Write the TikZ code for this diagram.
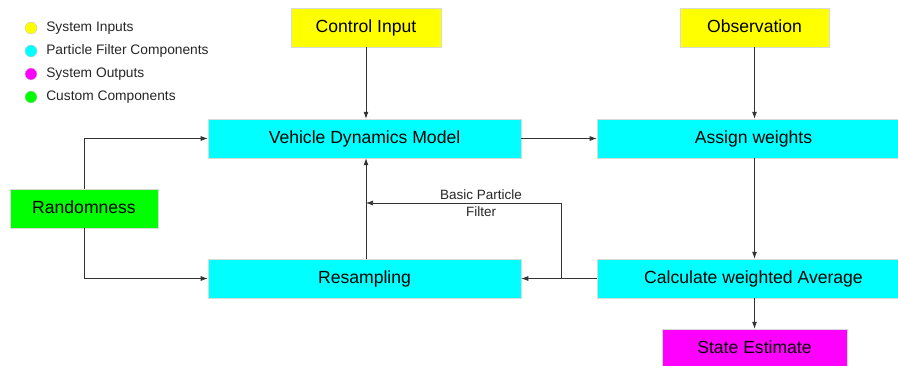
\documentclass[tikz,border=0pt]{standalone}
\usepackage{fontspec}
\setmainfont{Liberation Sans}
\usepackage{tikz}
\usetikzlibrary{arrows.meta,calc,positioning}
\definecolor{inyellow}{RGB}{255,255,0}
\definecolor{pfcyan}{RGB}{0,255,255}
\definecolor{outmagenta}{RGB}{255,0,255}
\definecolor{customgreen}{RGB}{0,255,0}

\begin{document}
\begin{tikzpicture}[
    x=0.025cm, y=-0.025cm,
    >={Latex[length=5pt,width=3.5pt]},
    font=\fontsize{12.5}{14}\selectfont,
    block/.style={
        draw=black!15,
        line width=0.3pt,
        minimum width=7.825cm,
        minimum height=0.975cm,
        align=center,
        inner sep=0pt,
        text height=0.72em,
        text depth=0pt
    },
    input_box/.style={block, fill=inyellow, minimum width=3.75cm},
    filter_box/.style={block, fill=pfcyan},
    output_box/.style={block, fill=outmagenta, minimum width=4.625cm},
    custom_box/.style={block, fill=customgreen, minimum width=3.7cm},
    link/.style={->, draw=black!80, line width=0.5pt},
    dot/.style={circle, draw=black!20, line width=0.3pt, minimum size=0.3cm, inner sep=0pt},
    legend/.style={anchor=west, font=\fontsize{9.8}{11}\selectfont, text=black!85, inner sep=0pt}
]

\clip (0,0) rectangle (898,366);

% Legenda
\node[dot, fill=inyellow]    (d1) at (31,28) {};
\node[dot, fill=pfcyan]      (d2) at (31,51) {};
\node[dot, fill=outmagenta]  (d3) at (31,74) {};
\node[dot, fill=customgreen] (d4) at (31,97) {};
\node[legend] at (46,28) {System Inputs};
\node[legend] at (46,51) {Particle Filter Components};
\node[legend] at (46,74) {System Outputs};
\node[legend] at (46,97) {Custom Components};

% Blocchi
\node[input_box] (ctrl) at (366,27.5) {Control Input};
\node[input_box, minimum width=3.725cm] (obs) at (754.5,27.5) {Observation};
\node[filter_box] (model) at (364.5,138.5) {Vehicle Dynamics Model};
\node[filter_box] (weights) at (753.5,138.5) {Assign weights};
\node[custom_box] (rand) at (84,208.5) {Randomness};
\node[filter_box] (resamp) at (364.5,278.5) {Resampling};
\node[filter_box] (avg) at (753.5,278.5) {Calculate weighted Average};
\node[output_box] (est) at (754.5,348.5) {State Estimate};

% Collegamenti
\draw[link] (ctrl.south) -- (ctrl.south |- model.north);
\draw[link] (obs.south) -- (obs.south |- weights.north);
\draw[link] (model.east) -- (weights.west);
\draw[link] (weights.south -| obs.south) -- (obs.south |- avg.north);
\draw[link] (avg.south -| obs.south) -- (obs.south |- est.north);
\draw[link] (avg.west) -- (resamp.east);
\draw[link] (resamp.north -| ctrl.south) -- (ctrl.south |- model.south);

% Ciclo del filtro base
\coordinate (loop) at (561,278.5);
\draw[link] (loop) |- (ctrl.south |- 0,203)
    node[pos=0.705, font=\fontsize{9.6}{12}\selectfont, text=black!85, align=center] {Basic Particle\\Filter};

% Randomness verso i blocchi
\draw[link] (rand.north) |- (model.west);
\draw[link] (rand.south) |- (resamp.west);

\end{tikzpicture}
\end{document}
